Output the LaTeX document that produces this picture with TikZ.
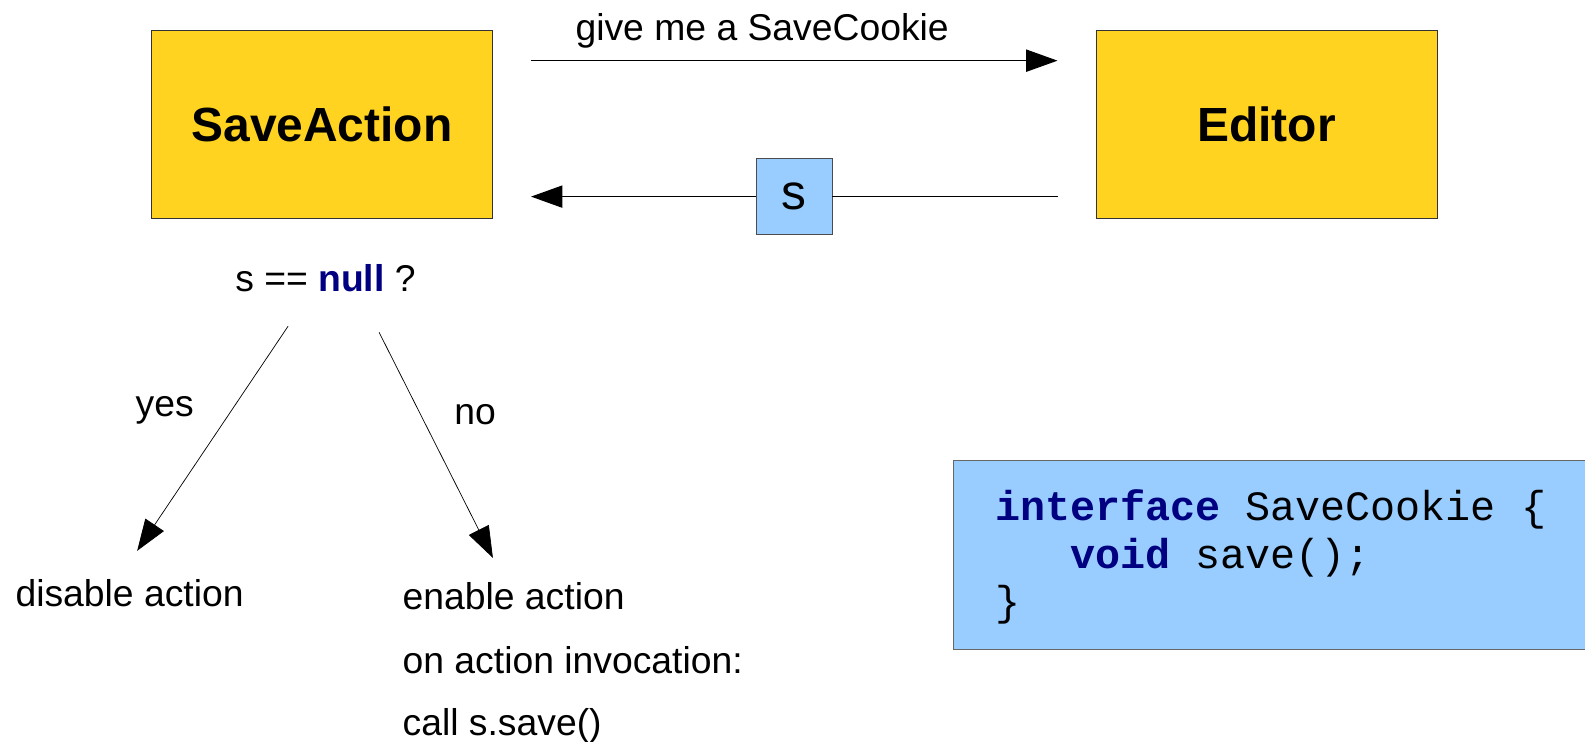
\documentclass[tikz,border=0pt]{standalone}
\usepackage{fontspec}
\setmainfont{Liberation Sans}
\setmonofont{Liberation Mono}
\usetikzlibrary{positioning}
\usetikzlibrary{arrows.meta}
\usetikzlibrary{calc}
\definecolor{actoryellow}{HTML}{FFD320}
\definecolor{cookieblue}{HTML}{99CCFF}
\definecolor{keynavy}{HTML}{000080}
\newcommand{\kwd}[1]{\textcolor{keynavy}{\bfseries #1}}

\begin{document}
\begin{tikzpicture}[>={Triangle[length=0.62cm,width=0.44cm]},
  actor/.style={draw=black!80,fill=actoryellow,minimum width=6.74cm,minimum height=3.72cm,
    font=\fontsize{27}{32}\selectfont\bfseries},
  cookie/.style={draw=black!70,fill=cookieblue,minimum size=1.5cm,inner sep=0pt,
    font=\fontsize{28}{33}\selectfont},
  txt/.style={inner sep=0pt,font=\fontsize{21}{25}\selectfont},
  code/.style={inner sep=0pt,anchor=base west,font=\fontsize{23.5}{28}\selectfont\ttfamily},
  msg/.style={line width=0.6pt},
  branch/.style={line width=0.4pt}]

\clip (0,0) rectangle (31.36,-14.68);

% the two parties
\node [actor] (sa) at (6.37,-2.46) {SaveAction};
\node [actor] (ed) at (25.06,-2.46) {Editor};

% request and answer
\coordinate (saout) at ($(sa.east)+(0.76,1.26)$);
\coordinate (edin) at ($(ed.west)+(-0.76,1.26)$);
\node [txt, anchor=base] (ask) at (15.08,-0.8) {give me a SaveCookie};
\draw [msg, ->] (saout) -- (edin);
\node [cookie] (s) at (15.71,-3.89) {s};
\coordinate (edout) at ($(ed.west |- s)+(-0.76,0)$);
\coordinate (sain) at ($(sa.east |- s)+(0.76,0)$);
\draw [msg] (edout) -- (s);
\draw [msg, ->] (s) -- (sain);

% decision
\node [txt, anchor=base] (cond) at (6.44,-5.76) {s == \kwd{null} ?};
\node [txt, anchor=base west] (dis) at (0.3,-12.0) {disable action};
\node [txt, anchor=base west] (en) at (7.96,-12.06) {enable action};
\node [txt, anchor=base west] (inv) at (7.96,-13.32) {on action invocation:};
\node [txt, anchor=base west] (call) at (7.96,-14.56) {call s.save()};
\draw [branch, ->] ([xshift=-0.74cm,yshift=-0.68cm]cond.south) -- ([xshift=0.15cm,yshift=0.56cm]dis.north);
\draw [branch, ->] ([xshift=1.06cm,yshift=-0.8cm]cond.south) -- ([xshift=-0.41cm,yshift=0.48cm]en.north);
\node [txt, anchor=base] (yes) at (3.26,-8.24) {yes};
\node [txt, anchor=base] (no) at (9.4,-8.4) {no};

% the interface
\node [draw=black!60, fill=cookieblue, minimum width=13.64cm, minimum height=3.74cm] (iface) at (25.68,-10.97) {};
\node [code] (l1) at (19.68,-10.3) {\kwd{interface} SaveCookie \{};
\node [code] (l2) at (19.68,-11.24) {\phantom{xxx}\kwd{void} save();};
\node [code] (l3) at (19.68,-12.18) {\}};

\end{tikzpicture}
\end{document}
